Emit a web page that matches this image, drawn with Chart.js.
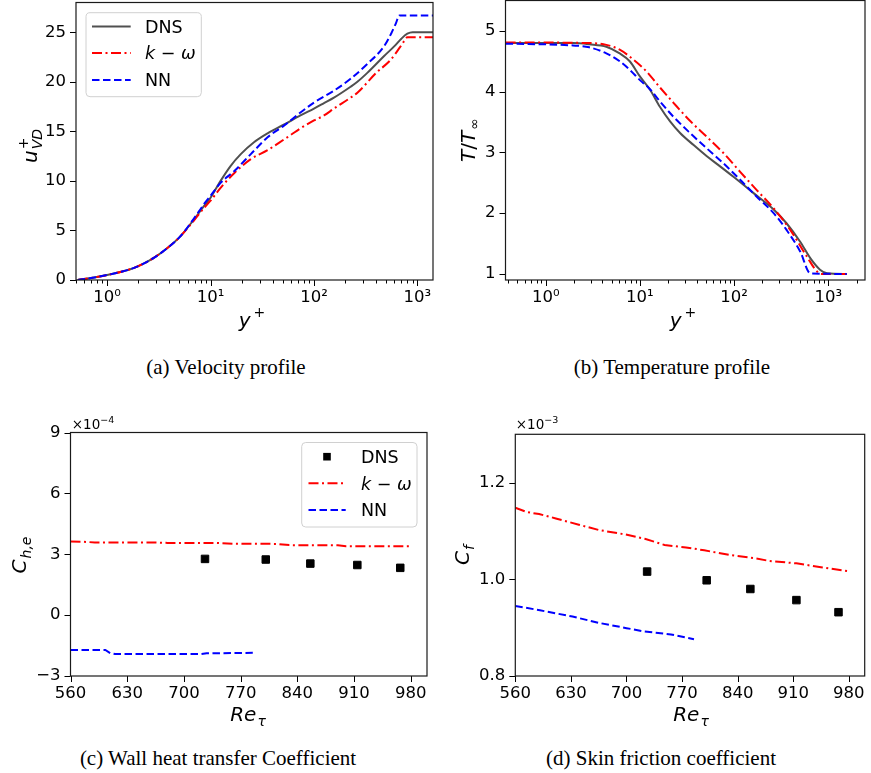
<!DOCTYPE html>
<html><head><meta charset="utf-8">
<script src="https://cdn.jsdelivr.net/npm/chart.js@4.4.1/dist/chart.umd.min.js"></script>
<style>
html,body{margin:0;padding:0;background:#fff}
body{width:871px;height:773px;position:relative;overflow:hidden}
canvas{position:absolute}
.cap{position:absolute;transform:translate(-50%,-50%);font-family:"Liberation Serif","Times New Roman",serif;font-size:21px;color:#000;white-space:nowrap}
</style></head><body>
<canvas id="ca" width="440" height="345" style="left:0px;top:0px"></canvas>
<canvas id="cb" width="431" height="345" style="left:440px;top:0px"></canvas>
<canvas id="cc" width="440" height="335" style="left:0px;top:400px"></canvas>
<canvas id="cd" width="431" height="335" style="left:440px;top:400px"></canvas>
<div class="cap" style="left:226px;top:367px">(a) Velocity profile</div>
<div class="cap" style="left:672px;top:367px">(b) Temperature profile</div>
<div class="cap" style="left:218px;top:758px">(c) Wall heat transfer Coefficient</div>
<div class="cap" style="left:661px;top:758px">(d) Skin friction coefficient</div>
<script>
// ================= DATA =================
const seriesNames = ['DNS', 'k − ω', 'NN'];

// (a) velocity profile u+_VD vs y+
const dnsYPlusA = [0.52,0.7,1,1.4,1.8,2.3,2.8,3.8,5.1,6.9,8.7,10,12.5,15.6,19.6,26.3,35.6,51.6,74,100,125,156,226,263,328,477,600,700,800,900,1000,1420];
const dnsUA     = [0,0.2,0.5,0.85,1.2,1.7,2.2,3.2,4.4,6.1,7.5,8.3,10,11.5,12.7,13.9,14.8,15.7,16.6,17.3,17.85,18.4,19.5,20.0,20.9,22.6,23.6,24.35,24.85,25.0,25.0,25.0];
const kwYPlusA  = [0.52,0.7,1,1.4,1.8,2.3,2.8,3.8,5.1,6.9,8.7,10,12.5,17,24.5,35.6,51.6,59,74,100,125,156,226,263,400,550,680,745,800,1420];
const kwUA      = [0,0.2,0.5,0.85,1.2,1.7,2.2,3.2,4.4,6.0,7.3,8.0,9.3,10.8,12.2,13.1,14.2,14.6,15.3,16.1,16.6,17.3,18.4,18.9,20.9,22.2,23.5,24.1,24.5,24.5];
const nnYPlusA  = [0.52,0.7,1,1.4,1.8,2.3,2.8,3.8,5.1,6.9,8.7,10,12.5,17,24.5,35.6,51.6,74,100,156,226,328,477,560,620,670,1420];
const nnUA      = [0,0.2,0.5,0.85,1.2,1.7,2.2,3.2,4.4,6.2,7.7,8.5,9.8,11.0,12.7,14.4,15.6,16.9,17.9,19.1,20.3,21.8,23.6,24.9,25.9,26.7,26.7];

// (b) temperature profile T/T_inf vs y+
const dnsYPlusB = [0.375,1,1.95,2.9,4.4,6.1,7.8,10,12.8,16.3,20.9,26.7,37.2,51,71,100,161,263,362,503,644,817,970,1570];
const dnsTB     = [4.80,4.80,4.80,4.78,4.74,4.63,4.50,4.25,4.03,3.75,3.51,3.32,3.12,2.94,2.77,2.59,2.33,2.06,1.83,1.53,1.26,1.07,1.01,1.0];
const kwYPlusB  = [0.375,2.9,4.4,6.1,8.5,11.8,16.3,22.6,34,51,77,116,174,263,396,590,760,850,1570];
const kwTB      = [4.81,4.80,4.77,4.69,4.53,4.33,4.07,3.82,3.52,3.26,2.99,2.68,2.38,2.08,1.72,1.29,1.04,1.0,1.0];
const nnYPlusB  = [0.375,1.95,2.9,4.4,6.1,7.8,10,12.8,16.3,22.6,34,51,77,116,174,263,362,503,644,1570];
const nnTB      = [4.79,4.76,4.73,4.63,4.50,4.36,4.19,4.04,3.84,3.59,3.32,3.07,2.82,2.55,2.27,2.00,1.72,1.37,1.01,1.0];

// (c) wall heat transfer coefficient C_h,e (x1e-4) vs Re_tau
const dnsReC = [726,801,856,914,967];
const dnsChC = [2.77,2.74,2.54,2.47,2.33];
const kwReC  = [560,575,590,620,660,680,740,760,815,830,890,900,978];
const kwChC  = [3.63,3.62,3.58,3.58,3.58,3.56,3.56,3.52,3.51,3.45,3.44,3.40,3.39];
const nnReC  = [560,603,609,615,720,728,785];
const nnChC  = [-1.72,-1.72,-1.87,-1.92,-1.92,-1.88,-1.86];

// (d) skin friction coefficient C_f (x1e-3) vs Re_tau
const dnsReD = [726,801,856,914,967];
const dnsCfD = [1.016,0.998,0.980,0.957,0.932];
const kwReD  = [560,575,590,611,640,665,698,723,748,775,798,831,860,880,914,945,978];
const kwCfD  = [1.148,1.139,1.135,1.126,1.113,1.102,1.093,1.084,1.071,1.066,1.060,1.050,1.044,1.038,1.033,1.025,1.017];
const nnReD  = [560,591,632,665,700,723,756,785];
const nnCfD  = [0.945,0.936,0.923,0.910,0.899,0.892,0.886,0.876];

// tick values
const ticksUA  = [0,5,10,15,20,25];
const ticksTB  = [1,2,3,4,5];
const ticksRe  = [560,630,700,770,840,910,980];
const ticksChC = [-3,0,3,6,9];
const ticksCfD = [0.8,1.0,1.2];

// ================= HELPERS =================
const pts = (xs, ys) => xs.map((x, i) => ({x: x, y: ys[i]}));
const SUP = {'-':'⁻','0':'⁰','1':'¹','2':'²','3':'³','4':'⁴','5':'⁵','6':'⁶','7':'⁷','8':'⁸','9':'⁹'};
const FAM = '"DejaVu Sans", sans-serif';
const TICKF = {family: '"DejaVu Sans"', size: 16.5};
const COL = {dns: '#505050', kw: '#ff0000', nn: '#0000ff'};
const DASH = {dns: [], kw: [10, 3.5, 2, 3.5], nn: [7.5, 3.5]};

function logTickList(min, max) {
  const out = [];
  for (let e = -1; e <= 4; e++) for (let m = 1; m <= 9; m++) {
    const v = m * Math.pow(10, e);
    if (v >= min && v <= max) out.push({value: v, minor: m !== 1, exp: e});
  }
  return out;
}
function fixedTicks(vals) { return vals.map(v => ({value: v})); }

function drawParts(ctx, parts, cx, cy, rot, base) {
  ctx.save();
  ctx.translate(cx, cy); ctx.rotate(rot || 0);
  ctx.textAlign = 'left'; ctx.textBaseline = 'alphabetic'; ctx.fillStyle = '#000';
  let x = 0, total = 0, next = null;
  parts.forEach(p => {
    ctx.font = p.f;
    const w = ctx.measureText(p.t).width;
    const start = next !== null ? next : x;
    p._x = start + (p.pre || 0);
    total = Math.max(total, p._x + w);
    next = p.hold ? start : null;
    x = total;
  });
  parts.forEach(p => { ctx.font = p.f; ctx.fillText(p.t, p._x - total / 2, base + (p.dy || 0)); });
  ctx.restore();
}

const I20 = 'italic 20px ' + FAM, R20 = '20px ' + FAM, I14 = 'italic 14px ' + FAM, R14 = '14px ' + FAM;
const I17 = 'italic 17.5px ' + FAM, R17 = '17.5px ' + FAM;

const decoPlugin = {
  id: 'deco',
  afterDraw(chart) {
    const o = chart.options.plugins.deco; if (!o) return;
    const ctx = chart.ctx, a = chart.chartArea;
    ctx.save();
    ctx.strokeStyle = '#000'; ctx.lineWidth = 1;
    const xs = chart.scales.x, ys = chart.scales.y;
    xs.ticks.forEach(t => {
      const p = Math.round(xs.getPixelForValue(t.value)) + 0.5;
      if (p < a.left - 1 || p > a.right + 1) return;
      const len = t.minor ? 3.5 : 6;
      ctx.beginPath(); ctx.moveTo(p, a.bottom); ctx.lineTo(p, a.bottom + len); ctx.stroke();
    });
    ys.ticks.forEach(t => {
      const p = Math.round(ys.getPixelForValue(t.value)) + 0.5;
      if (p < a.top - 1 || p > a.bottom + 1) return;
      ctx.beginPath(); ctx.moveTo(a.left, p); ctx.lineTo(a.left - 6, p); ctx.stroke();
    });
    ctx.strokeStyle = '#1a1a1a'; ctx.lineWidth = 1.2;
    ctx.strokeRect(a.left, a.top, a.right - a.left, a.bottom - a.top);
    ctx.restore();
    if (o.xTitle) drawParts(ctx, o.xTitle.parts, o.xTitle.x, o.xTitle.y, 0, 0);
    if (o.yTitle) drawParts(ctx, o.yTitle.parts, o.yTitle.x, o.yTitle.y, -Math.PI / 2, 7);
    if (o.offset) drawParts(ctx, o.offset.parts, o.offset.x, o.offset.y, 0, 0);
    if (o.legend) {
      const L = o.legend;
      ctx.save();
      ctx.beginPath(); ctx.roundRect(L.x0, L.y0, L.x1 - L.x0, L.y1 - L.y0, 4);
      ctx.fillStyle = 'rgba(255,255,255,0.8)'; ctx.fill();
      ctx.strokeStyle = '#d0d0d0'; ctx.lineWidth = 1; ctx.stroke();
      chart.data.datasets.forEach((ds, i) => {
        const yy = L.rows[i];
        if (ds.showLine === false) {
          ctx.fillStyle = '#000';
          ctx.fillRect(L.marker - 3.8, yy - 3.8, 7.6, 7.6);
        } else {
          ctx.strokeStyle = ds.borderColor; ctx.lineWidth = 2; ctx.setLineDash(ds.borderDash || []);
          ctx.beginPath(); ctx.moveTo(L.lx0, yy); ctx.lineTo(L.lx1, yy); ctx.stroke();
          ctx.setLineDash([]);
        }
        ctx.textAlign = 'left'; ctx.textBaseline = 'alphabetic'; ctx.fillStyle = '#000';
        if (ds.label === seriesNames[1]) {
          let x = L.tx;
          ctx.font = I17; ctx.fillText('k', x, yy + 6.4); x += ctx.measureText('k').width;
          ctx.font = R17; ctx.fillText(' − ', x, yy + 6.4); x += ctx.measureText(' − ').width;
          ctx.font = I17; ctx.fillText('ω', x, yy + 6.4);
        } else {
          ctx.font = R17; ctx.fillText(ds.label, L.tx, yy + 6.4);
        }
      });
      ctx.restore();
    }
  }
};

function lineDS(label, key, data, order, smooth) {
  return {label: label, data: data, borderColor: COL[key], backgroundColor: COL[key], borderWidth: 2,
    borderDash: DASH[key], pointRadius: 0, fill: false, order: order,
    cubicInterpolationMode: smooth ? 'monotone' : 'default', tension: 0};
}
function dnsPoints(data) {
  return {label: seriesNames[0], data: data, showLine: false, pointStyle: 'rect', pointRadius: 5.3,
    pointBackgroundColor: '#000', pointBorderColor: '#000', borderColor: '#000', backgroundColor: '#000', order: 3};
}

function makeChart(id, c) {
  const scaleCommon = {
    grid: {display: true, drawOnChartArea: false, drawTicks: true, tickLength: 6, color: 'rgba(0,0,0,0)'},
    border: {display: false},
    ticks: {color: '#000', font: TICKF, autoSkip: false, maxRotation: 0, minRotation: 0}
  };
  return new Chart(document.getElementById(id), {
    type: 'line',
    data: {datasets: c.datasets},
    options: {
      responsive: false, animation: false, devicePixelRatio: 1,
      layout: {padding: {top: c.pad.top, right: c.pad.right, left: 0, bottom: 0}},
      plugins: {legend: {display: false}, tooltip: {enabled: false}, deco: c.deco},
      scales: {
        x: Object.assign({}, scaleCommon, {
          type: c.xType, min: c.xMin, max: c.xMax, position: 'bottom',
          afterBuildTicks: s => { s.ticks = c.xTicks(); },
          afterFit: s => { s.height = c.xH; s.paddingLeft = 0; s.paddingRight = 0; },
          ticks: Object.assign({}, scaleCommon.ticks, {padding: 2, callback: c.xLabel})
        }),
        y: Object.assign({}, scaleCommon, {
          type: 'linear', min: c.yMin, max: c.yMax, position: 'left',
          afterBuildTicks: s => { s.ticks = c.yTicks(); },
          afterFit: s => { s.width = c.yW; s.paddingTop = 0; s.paddingBottom = 0; },
          ticks: Object.assign({}, scaleCommon.ticks, {padding: 4, callback: c.yLabel})
        })
      }
    },
    plugins: [decoPlugin]
  });
}

const logLabel = function (v, i, ticks) {
  const t = ticks[i];
  if (t.minor) return '';
  return '10' + SUP[String(t.exp)];
};
const minusLabel = v => (v < 0 ? '−' + Math.abs(v) : String(v));

// (a)
makeChart('ca', {
  xType: 'logarithmic', xMin: 0.5, xMax: 1416, yMin: 0, yMax: 28,
  xTicks: () => logTickList(0.5, 1416), yTicks: () => fixedTicks(ticksUA),
  xLabel: logLabel, yLabel: minusLabel,
  pad: {top: 2.5, right: 7}, yW: 76, xH: 65,
  datasets: [
    lineDS(seriesNames[0], 'dns', pts(dnsYPlusA, dnsUA), 3, true),
    lineDS(seriesNames[1], 'kw', pts(kwYPlusA, kwUA), 2, true),
    lineDS(seriesNames[2], 'nn', pts(nnYPlusA, nnUA), 1, true)
  ],
  deco: {
    xTitle: {x: 252, y: 327, parts: [{t: 'y', f: I20}, {t: '+', f: R14, dy: -10, pre: 3}]},
    yTitle: {x: 30, y: 146, parts: [{t: 'u', f: I20}, {t: '+', f: R14, dy: -9, pre: 1, hold: true}, {t: 'VD', f: I14, dy: 5, pre: 1}]},
    legend: {x0: 86, y0: 12.7, x1: 201.3, y1: 96.7, rows: [26.5, 53, 80], lx0: 92, lx1: 130.7, tx: 145, marker: 111}
  }
});

// (b)
makeChart('cb', {
  xType: 'logarithmic', xMin: 0.374, xMax: 2454, yMin: 0.9, yMax: 5.5,
  xTicks: () => logTickList(0.374, 2454), yTicks: () => fixedTicks(ticksTB),
  xLabel: logLabel, yLabel: minusLabel,
  pad: {top: 0.5, right: 6}, yW: 65.5, xH: 65,
  datasets: [
    lineDS(seriesNames[0], 'dns', pts(dnsYPlusB, dnsTB), 3, true),
    lineDS(seriesNames[1], 'kw', pts(kwYPlusB, kwTB), 2, true),
    lineDS(seriesNames[2], 'nn', pts(nnYPlusB, nnTB), 1, true)
  ],
  deco: {
    xTitle: {x: 243, y: 327, parts: [{t: 'y', f: I20}, {t: '+', f: R14, dy: -10, pre: 3}]},
    yTitle: {x: 28, y: 140, parts: [{t: 'T', f: I20}, {t: '/', f: R20}, {t: 'T', f: I20}, {t: '∞', f: R14, dy: 4, pre: 1}]}
  }
});

// (c)
makeChart('cc', {
  xType: 'linear', xMin: 560, xMax: 1000, yMin: -3, yMax: 9,
  xTicks: () => fixedTicks(ticksRe), yTicks: () => fixedTicks(ticksChC),
  xLabel: v => String(v), yLabel: minusLabel,
  pad: {top: 32.5, right: 13}, yW: 70.5, xH: 59,
  datasets: [
    dnsPoints(pts(dnsReC, dnsChC)),
    lineDS(seriesNames[1], 'kw', pts(kwReC, kwChC), 2, false),
    lineDS(seriesNames[2], 'nn', pts(nnReC, nnChC), 1, false)
  ],
  deco: {
    xTitle: {x: 248, y: 321, parts: [{t: 'Re', f: I20}, {t: 'τ', f: I14, dy: 5, pre: 1}]},
    yTitle: {x: 19, y: 155, parts: [{t: 'C', f: I20}, {t: 'h,e', f: I14, dy: 5, pre: 1}]},
    offset: {x: 93, y: 29, parts: [{t: '×10', f: '13.5px ' + FAM}, {t: '−4', f: '9.5px ' + FAM, dy: -6}]},
    legend: {x0: 301.7, y0: 42.5, x1: 417, y1: 127, rows: [56.7, 83.3, 110], lx0: 308.5, lx1: 345.7, tx: 361, marker: 327}
  }
});

// (d)
makeChart('cd', {
  xType: 'linear', xMin: 560, xMax: 1000, yMin: 0.8, yMax: 1.3,
  xTicks: () => fixedTicks(ticksRe), yTicks: () => fixedTicks(ticksCfD),
  xLabel: v => String(v), yLabel: v => v.toFixed(1),
  pad: {top: 34.3, right: 1.5}, yW: 75.3, xH: 59,
  datasets: [
    dnsPoints(pts(dnsReD, dnsCfD)),
    lineDS(seriesNames[1], 'kw', pts(kwReD, kwCfD), 2, false),
    lineDS(seriesNames[2], 'nn', pts(nnReD, nnCfD), 1, false)
  ],
  deco: {
    xTitle: {x: 251, y: 321, parts: [{t: 'Re', f: I20}, {t: 'τ', f: I14, dy: 5, pre: 1}]},
    yTitle: {x: 22, y: 155, parts: [{t: 'C', f: I20}, {t: 'f', f: I14, dy: 5, pre: 1}]},
    offset: {x: 97, y: 29, parts: [{t: '×10', f: '13.5px ' + FAM}, {t: '−3', f: '9.5px ' + FAM, dy: -6}]}
  }
});
</script>
</body></html>
